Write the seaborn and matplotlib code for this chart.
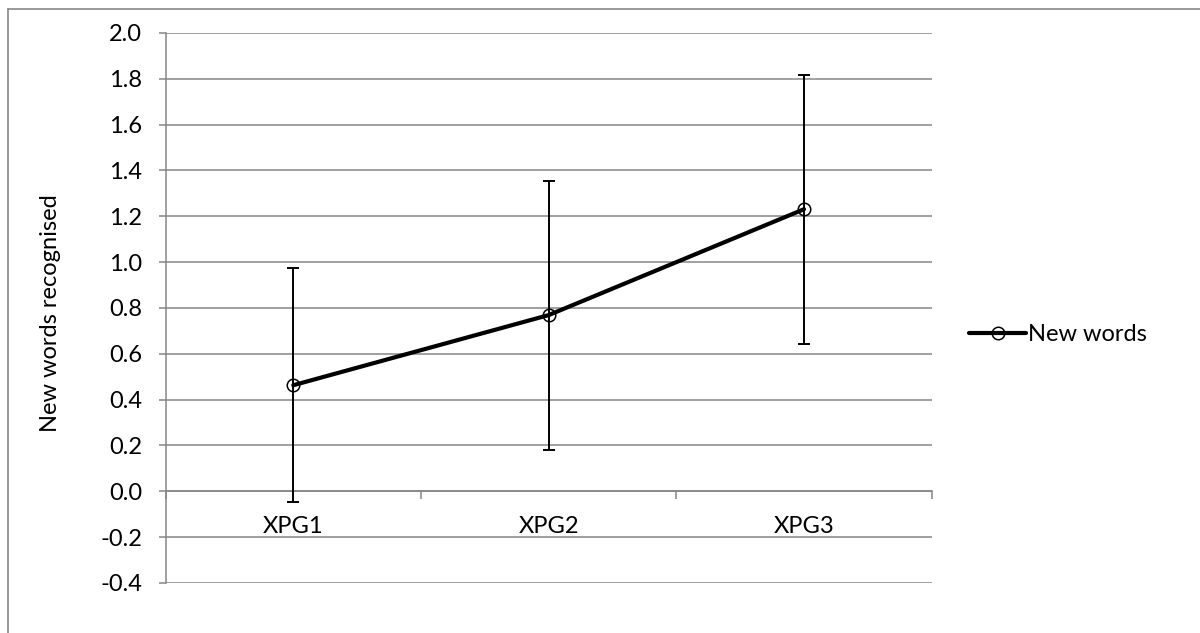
import matplotlib
matplotlib.use("Agg")
import matplotlib.pyplot as plt
from matplotlib.lines import Line2D
from matplotlib.ticker import FixedLocator, MultipleLocator, NullFormatter, FuncFormatter
import numpy as np
import pandas as pd
import seaborn as sns

# ---- data ----
categories = ["XPG1", "XPG2", "XPG3"]
means = [0.463, 0.769, 1.231]
errors = [0.51, 0.587, 0.587]
series_name = "New words"
y_label = "New words recognised"

sns.set_theme(style="white")
plt.rcParams["font.family"] = ["Lato", "DejaVu Sans"]

GRID = "#868686"
FS = 17

positions = np.arange(len(categories))
df = pd.DataFrame({"pos": positions, "value": means, "series": series_name})

fig = plt.figure(figsize=(12, 6.33), dpi=100)
ax = fig.add_axes([0.138, 0.079, 0.7764 - 0.138, 0.9479 - 0.079])

ax.errorbar(positions, means, yerr=errors, fmt="none", ecolor="black",
            elinewidth=1.4, capsize=4.3, capthick=1.4, zorder=3)
sns.lineplot(data=df, x="pos", y="value", hue="series", palette=["black"],
             marker="o", markersize=9, markerfacecolor="none",
             markeredgecolor="black", markeredgewidth=1.1, linewidth=3.0,
             ax=ax, zorder=4, legend=True)

ax.set_xlim(-0.5, len(categories) - 0.5)
ax.set_ylim(-0.4, 2.0)
ax.yaxis.set_major_locator(MultipleLocator(0.2))
ax.yaxis.set_major_formatter(FuncFormatter(lambda v, p: f"{v:.1f}"))
ax.grid(axis="y", color=GRID, linewidth=1.1)
ax.grid(axis="x", visible=False)
ax.set_axisbelow(True)

# category axis at y = 0
for s in ["top", "right"]:
    ax.spines[s].set_visible(False)
ax.spines["bottom"].set_position(("data", 0))
ax.spines["bottom"].set_color(GRID)
ax.spines["bottom"].set_linewidth(1.1)
ax.spines["left"].set_color(GRID)
ax.spines["left"].set_linewidth(1.1)

ax.xaxis.set_major_locator(FixedLocator(np.arange(-0.5, len(categories), 1.0)))
ax.xaxis.set_major_formatter(NullFormatter())
ax.set_xticks(positions, minor=True)
ax.set_xticklabels(categories, minor=True)
ax.tick_params(axis="x", which="major", direction="out", length=6, width=1.1,
               color=GRID, bottom=True)
ax.tick_params(axis="x", which="minor", length=0, pad=18, labelsize=FS,
               labelcolor="black", bottom=True)
ax.tick_params(axis="y", direction="out", length=5, width=1.1, color=GRID,
               left=True, pad=12, labelsize=FS, labelcolor="black")

ax.set_xlabel("")
ax.set_ylabel(y_label, fontsize=FS, color="black")
ax.yaxis.set_label_coords(-0.137, 0.49)

handles, labels = ax.get_legend_handles_labels()
leg = ax.legend(handles, labels, loc="center left", bbox_to_anchor=(1.037, 0.451),
                frameon=False, fontsize=FS, handlelength=2.4, handletextpad=0.1,
                borderaxespad=0)
for t in leg.get_texts():
    t.set_color("black")

# outer chart-area border (top and left)
fig.add_artist(Line2D([8 / 1200, 1.0], [1 - 8.5 / 633, 1 - 8.5 / 633],
                      transform=fig.transFigure, color="#878787", linewidth=1.2))
fig.add_artist(Line2D([8 / 1200, 8 / 1200], [0, 1 - 8.5 / 633],
                      transform=fig.transFigure, color="#878787", linewidth=1.2))

fig.savefig("out.png", dpi=100, facecolor="white")
